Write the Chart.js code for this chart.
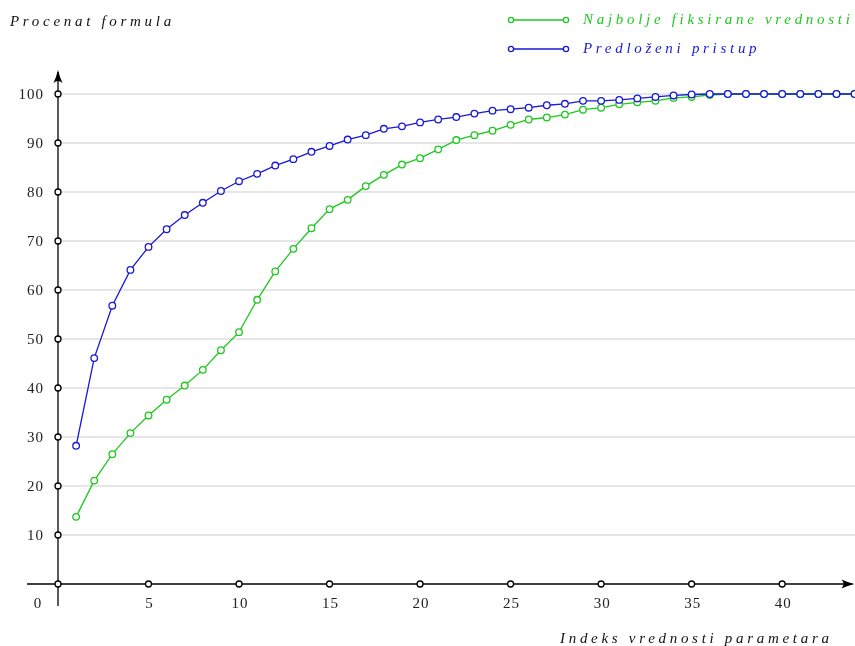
<!DOCTYPE html>
<html>
<head>
<meta charset="utf-8">
<script src="https://cdn.jsdelivr.net/npm/chart.js@4.4.1/dist/chart.umd.min.js"></script>
<style>
html,body{margin:0;padding:0;background:#fff;}
#c{display:block;}
</style>
</head>
<body>
<canvas id="c" width="855" height="646"></canvas>
<script>
// ---- data ----
const indices = [1,2,3,4,5,6,7,8,9,10,11,12,13,14,15,16,17,18,19,20,21,22,23,24,25,26,27,28,29,30,31,32,33,34,35,36,37,38,39,40,41,42,43,44];
const najbolje = [13.7,21.1,26.5,30.8,34.4,37.6,40.5,43.7,47.7,51.4,58.0,63.8,68.4,72.6,76.5,78.4,81.2,83.5,85.6,86.9,88.7,90.6,91.6,92.5,93.7,94.8,95.2,95.8,96.8,97.2,97.9,98.3,98.6,99.2,99.4,99.8,100,100,100,100,100,100,100,100];
const predlozeni = [28.2,46.1,56.8,64.1,68.8,72.4,75.3,77.8,80.2,82.2,83.7,85.4,86.7,88.2,89.4,90.7,91.6,92.9,93.4,94.2,94.8,95.3,96.0,96.6,96.9,97.2,97.7,98.0,98.6,98.6,98.8,99.1,99.4,99.7,99.9,100,100,100,100,100,100,100,100,100];
const xTicks = [5,10,15,20,25,30,35,40];
const yTicks = [10,20,30,40,50,60,70,80,90,100];
const seriesNames = ['Najbolje fiksirane vrednosti','Predloženi pristup'];
const yTitle = 'Procenat formula';
const xTitle = 'Indeks vrednosti parametara';

const GREEN = '#1ec81e';
const BLUE = '#1818d8';
const SERIF = '"Liberation Serif", "DejaVu Serif", serif';

function pts(vals){ return indices.map((x,i)=>({x:x,y:vals[i]})); }

function circle(ctx,x,y,r,stroke){
  ctx.beginPath(); ctx.arc(x,y,r,0,Math.PI*2);
  ctx.fillStyle='#fff'; ctx.fill();
  ctx.lineWidth=1.3; ctx.strokeStyle=stroke; ctx.stroke();
}

const axesPlugin = {
  id:'axesPlugin',
  beforeDatasetsDraw(chart){
    const ctx=chart.ctx, xs=chart.scales.x, ys=chart.scales.y;
    const x0=xs.getPixelForValue(0), y0=ys.getPixelForValue(0);
    ctx.save();
    ctx.strokeStyle='#dedede'; ctx.lineWidth=1.5;
    yTicks.forEach(v=>{
      const y=ys.getPixelForValue(v);
      ctx.beginPath(); ctx.moveTo(x0,y); ctx.lineTo(chart.width,y); ctx.stroke();
    });
    ctx.strokeStyle='#000'; ctx.lineWidth=1.3;
    ctx.beginPath(); ctx.moveTo(x0-31,y0); ctx.lineTo(chart.width-3,y0); ctx.stroke();
    ctx.beginPath(); ctx.moveTo(x0,y0+22); ctx.lineTo(x0,ys.top-22); ctx.stroke();
    ctx.fillStyle='#000';
    const tx=chart.width-0.5;
    ctx.beginPath(); ctx.moveTo(tx,y0); ctx.quadraticCurveTo(tx-8,y0-2,tx-13,y0-4.5);
    ctx.quadraticCurveTo(tx-9,y0,tx-13,y0+4.5); ctx.quadraticCurveTo(tx-8,y0+2,tx,y0); ctx.fill();
    const ty=ys.top-24;
    ctx.beginPath(); ctx.moveTo(x0,ty); ctx.quadraticCurveTo(x0-2,ty+8,x0-4.5,ty+13);
    ctx.quadraticCurveTo(x0,ty+9,x0+4.5,ty+13); ctx.quadraticCurveTo(x0+2,ty+8,x0,ty); ctx.fill();
    ctx.restore();
  },
  afterDatasetsDraw(chart){
    const ctx=chart.ctx, xs=chart.scales.x, ys=chart.scales.y;
    const x0=xs.getPixelForValue(0), y0=ys.getPixelForValue(0);
    ctx.save();
    circle(ctx,x0,y0,3,'#000');
    yTicks.forEach(v=>circle(ctx,x0,ys.getPixelForValue(v),3,'#000'));
    xTicks.forEach(v=>circle(ctx,xs.getPixelForValue(v),y0,3,'#000'));
    ctx.fillStyle='#222';
    ctx.font='15px '+SERIF;
    ctx.letterSpacing='1px';
    ctx.textAlign='right'; ctx.textBaseline='middle';
    yTicks.forEach(v=>ctx.fillText(String(v),x0-14,ys.getPixelForValue(v)+1));
    ctx.textAlign='center';
    xTicks.forEach(v=>ctx.fillText(String(v),xs.getPixelForValue(v)+1,y0+20));
    ctx.fillText('0',x0-20,y0+20);
    ctx.font='italic 15px '+SERIF;
    ctx.letterSpacing='3.7px';
    ctx.fillStyle='#111';
    ctx.textAlign='left'; ctx.textBaseline='middle';
    ctx.fillText(yTitle,10,22);
    ctx.fillText(xTitle,560,639);
    const colors=[GREEN,BLUE], ly=[20,49];
    for(let i=0;i<2;i++){
      ctx.strokeStyle=colors[i]; ctx.lineWidth=1.3;
      ctx.beginPath(); ctx.moveTo(511,ly[i]); ctx.lineTo(566,ly[i]); ctx.stroke();
      circle(ctx,511,ly[i],2.6,colors[i]); circle(ctx,566,ly[i],2.6,colors[i]);
      ctx.fillStyle=colors[i];
      ctx.fillText(chart.data.datasets[i].label,583,ly[i]);
    }
    ctx.restore();
  }
};

new Chart(document.getElementById('c'),{
  type:'line',
  data:{datasets:[
    {label:seriesNames[0],data:pts(najbolje),borderColor:GREEN,backgroundColor:'#fff',borderWidth:1.3,pointRadius:3.3,pointBorderWidth:1.3,pointBackgroundColor:'#fff',pointBorderColor:GREEN,clip:false,tension:0,order:2},
    {label:seriesNames[1],data:pts(predlozeni),borderColor:BLUE,backgroundColor:'#fff',borderWidth:1.3,pointRadius:3.3,pointBorderWidth:1.3,pointBackgroundColor:'#fff',pointBorderColor:BLUE,clip:false,tension:0,order:1}
  ]},
  options:{
    responsive:false,animation:false,
    layout:{padding:{left:58,right:0,top:94,bottom:62}},
    scales:{
      x:{type:'linear',min:0,max:43.73,display:false},
      y:{min:0,max:100,display:false}
    },
    plugins:{legend:{display:false},tooltip:{enabled:false}}
  },
  plugins:[axesPlugin]
});
</script>
</body>
</html>
